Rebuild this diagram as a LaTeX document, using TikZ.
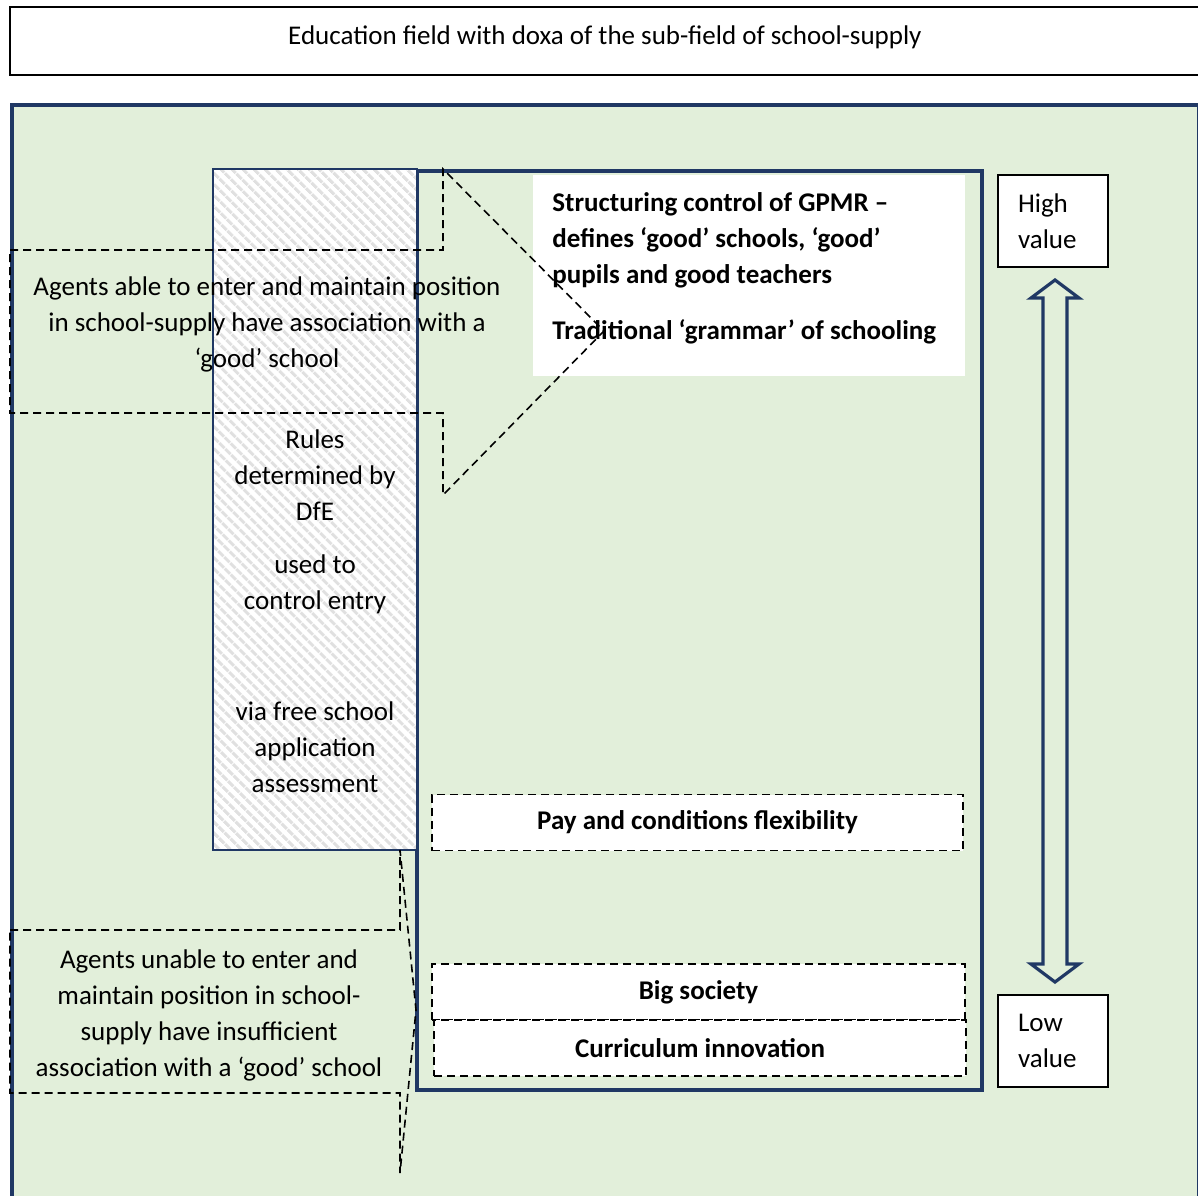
\documentclass[tikz,border=0pt]{standalone}
\usepackage{fontspec}
\setmainfont{Carlito}
\usepackage{xcolor}
\usetikzlibrary{positioning}
\usetikzlibrary{calc}
\usetikzlibrary{patterns.meta}
\definecolor{navy}{HTML}{203864}
\definecolor{fieldgreen}{HTML}{E2EFDA}

\begin{document}
\begin{tikzpicture}[
    x=0.5pt, y=-0.5pt,
    font=\fontsize{13.5}{18}\selectfont,
    titlebox/.style={rectangle, draw=black, line width=1pt, fill=white, minimum width=595pt, minimum height=34pt, inner sep=0pt, text depth=6pt},
    field/.style={draw=navy, line width=2pt, fill=fieldgreen},
    gpmr/.style={draw=navy, line width=2pt},
    doxa/.style={rectangle, fill=white, minimum width=216pt, minimum height=100.5pt, inner sep=0pt},
    doxatext/.style={align=left, font=\fontsize{13.5}{18}\selectfont\bfseries, inner sep=0pt},
    policy/.style={rectangle, draw=black, dashed, dash pattern=on 4pt off 2.5pt, line width=0.8pt, fill=white, minimum height=28pt, inner sep=0pt, font=\fontsize{13.5}{18}\selectfont\bfseries},
    valuebox/.style={rectangle, draw=black, line width=1pt, fill=white, minimum width=55pt, minimum height=46pt, text width=35pt, inner xsep=10pt, align=left},
    blockarrow/.style={draw=navy, line width=1.6pt, line join=miter},
    rules/.style={rectangle, draw=navy, line width=1pt, preaction={fill=white}, pattern={Lines[angle=-45, distance=4pt, line width=1.7pt]}, pattern color=gray!24, minimum width=102pt, minimum height=340.5pt, inner sep=0pt},
    txt/.style={align=center, inner sep=0pt},
    callout/.style={draw=black, dashed, dash pattern=on 4pt off 2.5pt, line width=0.8pt}
]
\useasboundingbox (0,0) rectangle (1198,1195);

\node[titlebox] (title) at (605,41) {Education field with doxa of the sub-field of school-supply};

\draw[field] (12,105) rectangle (1199,1215);
\draw[gpmr] (417,171) rectangle (982,1090);

\node[doxa] (doxa) at (749,275.5) {};
\node[doxatext, anchor=north west] (doxatxt) at (552,192) {Structuring control of GPMR --\\defines ‘good’ schools, ‘good’\\pupils and good teachers\\[10pt]Traditional ‘grammar’ of schooling};

\node[policy, minimum width=265.5pt] (pay) at (697.5,822.5) {Pay and conditions flexibility};
\node[policy, minimum width=266.5pt] (bigsoc) at (698.5,992) {Big society};
\node[policy, minimum width=266pt] (curric) at (700,1048) {Curriculum innovation};

\node[valuebox] (high) at (1053,221) {High\\value};
\node[valuebox] (low) at (1053,1041) {Low\\value};

\coordinate (uptip) at ([xshift=1pt, yshift=-6pt]high.south);
\coordinate (dntip) at ([xshift=1pt, yshift=6pt]low.north);
\draw[blockarrow] (uptip) -- ++(24,18) -- ++(-12,0) -- ($(dntip)+(12,-18)$) -- ++(12,0) -- (dntip) -- ++(-24,-18) -- ++(12,0) -- ($(uptip)+(-12,18)$) -- ++(-12,0) -- cycle;

\node[rules] (rules) at (315,509.5) {};
\node[txt] (rulesA) at (315,475) {Rules\\determined by\\DfE};
\node[txt] (rulesB) at (315,584) {used to\\control entry};
\node[txt] (rulesC) at (315,747) {via free school\\application\\assessment};

\draw[callout] (10,250) -- (443,250) -- (443,169) -- (604,331) -- (443,495) -- (443,413) -- (10,413) -- cycle;
\node[txt] (able) at (267,324) {Agents able to enter and maintain position\\in school-supply have association with a\\‘good’ school};

\draw[callout] (10,930) -- (400,930) -- (400,850) -- (416,1010) -- (400,1173) -- (400,1093) -- (10,1093) -- cycle;
\node[txt] (unable) at (209,1015) {Agents unable to enter and\\maintain position in school-\\supply have insufficient\\association with a ‘good’ school};

\end{tikzpicture}
\end{document}
